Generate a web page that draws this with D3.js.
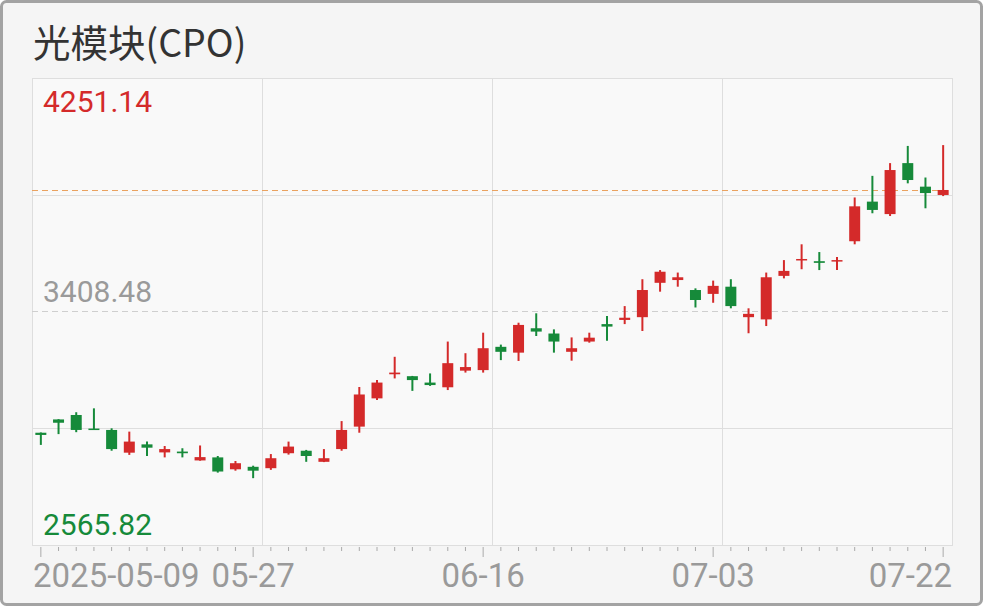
<!DOCTYPE html>
<html>
<head>
<meta charset="utf-8">
<script src="https://cdn.jsdelivr.net/npm/d3@7/dist/d3.min.js"></script>
<style>
  html, body { margin: 0; padding: 0; background: #ffffff; }
  svg { display: block; }
</style>
</head>
<body>
<svg id="chart" width="983" height="606"></svg>
<script>
const title = "光模块(CPO)";
const dates = [
  "2025-05-09","2025-05-12","2025-05-13","2025-05-14","2025-05-15","2025-05-16",
  "2025-05-19","2025-05-20","2025-05-21","2025-05-22","2025-05-23",
  "2025-05-26","2025-05-27","2025-05-28","2025-05-29","2025-05-30",
  "2025-06-03","2025-06-04","2025-06-05","2025-06-06",
  "2025-06-09","2025-06-10","2025-06-11","2025-06-12","2025-06-13",
  "2025-06-16","2025-06-17","2025-06-18","2025-06-19","2025-06-20",
  "2025-06-23","2025-06-24","2025-06-25","2025-06-26","2025-06-27",
  "2025-06-30","2025-07-01","2025-07-02","2025-07-03","2025-07-04",
  "2025-07-07","2025-07-08","2025-07-09","2025-07-10","2025-07-11",
  "2025-07-14","2025-07-15","2025-07-16","2025-07-17","2025-07-18",
  "2025-07-21","2025-07-22"
];
const opens  = [2971,3019,3035,2986,2981,2899,2929,2900,2903,2871,2882,2839,2848,2843,2897,2906,2866,2912,2993,3095,3182,3175,3152,3135,3195,3197,3281,3260,3348,3329,3263,3300,3363,3378,3388,3512,3522,3486,3472,3498,3388,3380,3537,3595,3590,3590,3662,3805,3760,3944,3859,3829];
const highs  = [2972,3020,3045,3059,2987,2975,2939,2923,2915,2925,2887,2869,2852,2894,2939,2909,2912,3013,3136,3161,3245,3176,3185,3300,3258,3332,3289,3368,3402,3344,3315,3332,3392,3428,3525,3558,3549,3492,3520,3525,3420,3549,3594,3651,3623,3605,3820,3898,3944,4006,3892,4009];
const lows   = [2927,2966,2973,2983,2906,2891,2887,2882,2882,2870,2827,2834,2807,2837,2892,2866,2865,2906,2971,3089,3167,3122,3140,3125,3188,3188,3233,3230,3320,3260,3231,3296,3303,3363,3338,3480,3498,3423,3440,3420,3330,3356,3528,3561,3558,3558,3651,3763,3753,3871,3781,3825];
const closes = [2963,3007,2981,2985,2912,2939,2917,2912,2897,2883,2831,2861,2834,2879,2921,2887,2879,2981,3109,3152,3188,3161,3143,3222,3208,3276,3263,3360,3336,3300,3276,3314,3354,3386,3486,3552,3532,3450,3501,3428,3400,3532,3555,3598,3584,3594,3788,3775,3919,3883,3836,3847];
const yLabelValues = [4251.14, 3408.48, 2565.82];
const xTickLabels = {"2025-05-09":"2025-05-09","2025-05-27":"05-27","2025-06-16":"06-16","2025-07-03":"07-03","2025-07-22":"07-22"};

const RED = "#d42a2a", GREEN = "#168a3a";
const W = 983, H = 606;
const plot = {x0: 32, x1: 952, y0: 78, y1: 545};

const svg = d3.select("#chart");

// outer frame
svg.append("rect").attr("x",1.5).attr("y",1.5).attr("width",W-3).attr("height",H-3)
  .attr("rx",5).attr("fill","#f5f5f5").attr("stroke","#a3a3a3").attr("stroke-width",3);

// title
svg.append("text").attr("x",33).attr("y",57)
  .attr("font-family","'Noto Sans CJK SC','Noto Sans',sans-serif")
  .attr("font-size",37.5).attr("fill","#333").text(title);

const x = d3.scaleBand().domain(dates).range([plot.x0, plot.x1]).padding(0);
const yMin = yLabelValues[2], yMax = yLabelValues[0];
const y = d3.scaleLinear().domain([yMin, yMax]).range([plot.y1, plot.y0]);

// plot area
svg.append("rect").attr("x",plot.x0+0.5).attr("y",plot.y0+0.5)
  .attr("width",plot.x1-plot.x0).attr("height",plot.y1-plot.y0)
  .attr("fill","#f9f9f9").attr("stroke","#dedede");

// vertical grid (quarters)
for (let k=1;k<4;k++){
  const gx = Math.round(plot.x0 + (plot.x1-plot.x0)*k/4)+0.5;
  svg.append("line").attr("x1",gx).attr("x2",gx).attr("y1",plot.y0).attr("y2",plot.y1)
    .attr("stroke","#dedede");
}
// horizontal grid (quarters)
for (let k=1;k<4;k++){
  const v = yMin + (yMax-yMin)*k/4;
  const gy = Math.round(y(v))+0.5;
  svg.append("line").attr("x1",plot.x0).attr("x2",plot.x1).attr("y1",gy).attr("y2",gy)
    .attr("stroke", k===2 ? "#cfcfcf" : "#dedede")
    .attr("stroke-dasharray", k===2 ? "6,4" : null);
}

// last price dashed line
const lastY = Math.round(y(closes[closes.length-1]))+0.5;
svg.append("line").attr("x1",plot.x0).attr("x2",plot.x1).attr("y1",lastY).attr("y2",lastY)
  .attr("stroke","#eaa260").attr("stroke-dasharray","6,4");

// candles
const data = dates.map((d,i)=>({d, o:opens[i], h:highs[i], l:lows[i], c:closes[i]}));
const bodyW = 11;
const g = svg.append("g");
data.forEach(p=>{
  const cx = x(p.d) + x.bandwidth()/2;
  const col = p.c >= p.o ? RED : GREEN;
  g.append("line").attr("x1",cx).attr("x2",cx).attr("y1",y(p.h)).attr("y2",y(p.l))
    .attr("stroke",col).attr("stroke-width",2);
  const top = y(Math.max(p.o,p.c)), bot = y(Math.min(p.o,p.c));
  g.append("rect").attr("x",cx-bodyW/2).attr("y",top).attr("width",bodyW)
    .attr("height",Math.max(1.5, bot-top)).attr("fill",col);
});

// y labels
const yLabelColors = [RED, "#9a9a9a", GREEN];
const yLabelBaselines = [y(yLabelValues[0])+34, y(yLabelValues[1])-10, y(yLabelValues[2])-10];
yLabelValues.forEach((v,i)=>{
  svg.append("text").attr("x",43).attr("y",yLabelBaselines[i])
    .attr("font-family","Roboto, sans-serif").attr("font-size",30)
    .attr("fill",yLabelColors[i]).text(v.toFixed(2));
});

// x axis
const axis = d3.axisBottom(x).tickSize(4).tickSizeOuter(0)
  .tickFormat(d => xTickLabels[d] || "");
const ax = svg.append("g").attr("transform",`translate(0,${plot.y1+2})`).call(axis);
ax.select(".domain").remove();
ax.selectAll(".tick line").attr("stroke","#aaa")
  .attr("y2", d => xTickLabels[d] ? 10 : 4);
ax.selectAll(".tick text")
  .attr("font-family","Roboto, sans-serif").attr("font-size",33).attr("fill","#9a9a9a")
  .attr("y",17).attr("dy","0.71em")
  .attr("text-anchor", d => d===dates[0] ? "start" : (d===dates[dates.length-1] ? "end" : "middle"))
  .attr("dx", d => d===dates[0] ? (plot.x0+1 - (x(d)+x.bandwidth()/2)) : (d===dates[dates.length-1] ? (plot.x1 - (x(d)+x.bandwidth()/2)) : 0));
</script>
</body>
</html>
